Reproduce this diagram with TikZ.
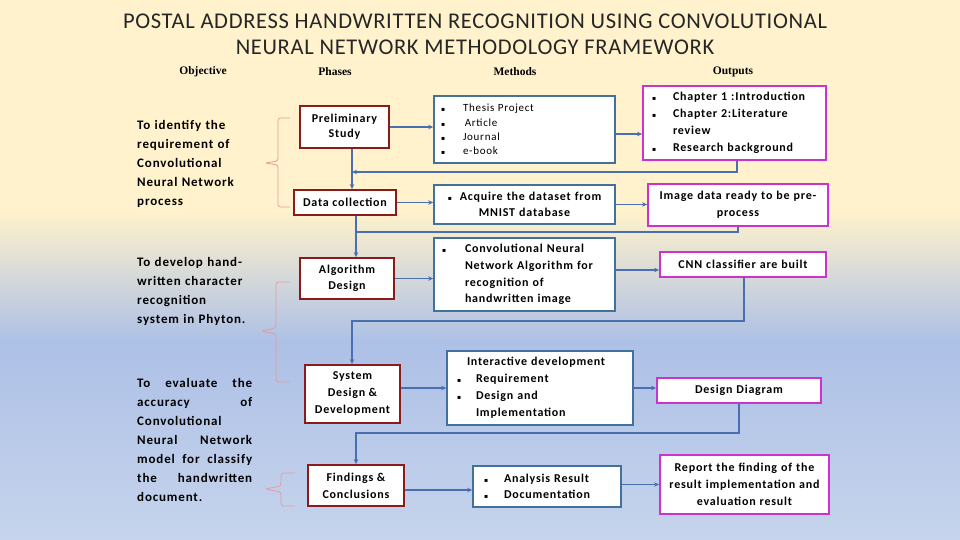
\documentclass[tikz,border=0pt]{standalone}
\usepackage{fontspec}
\setmainfont{Carlito}[LetterSpace=6.5]
\newfontfamily\titlefont{Carlito}[LetterSpace=3]
\newfontfamily\hdrfont{Liberation Serif}
\newfontfamily\dejavu{DejaVu Sans}
\usetikzlibrary{arrows.meta,calc}

\definecolor{cream}{HTML}{FFF2CC}
\definecolor{bgblue}{HTML}{ADC0E6}
\definecolor{bgbluetwo}{HTML}{C6D4EC}
\definecolor{phred}{HTML}{8B1A1A}
\definecolor{mblue}{HTML}{41719C}
\definecolor{omag}{HTML}{CC33CC}
\definecolor{connc}{HTML}{4A6FB0}
\definecolor{bracec}{HTML}{E59C9C}

\newcommand\bl{{\dejavu\fontsize{6}{6}\selectfont ▪}}

\tikzset{
  phasebox/.style={draw=phred, line width=1.8pt, fill=white, align=center, inner sep=0pt,
    font=\bfseries\fontsize{12}{16}\selectfont},
  methbox/.style={draw=mblue, line width=1.6pt, fill=white, inner ysep=0pt,
    font=\bfseries\fontsize{12}{16.7}\selectfont},
  outbox/.style={draw=omag, line width=1.8pt, fill=white, inner ysep=0pt,
    font=\bfseries\fontsize{12}{17}\selectfont},
  objtext/.style={anchor=west, inner sep=0pt, font=\bfseries\fontsize{13}{19}\selectfont},
  hdrst/.style={inner sep=0pt, font=\hdrfont\bfseries\fontsize{11.5}{13}\selectfont},
  connline/.style={draw=connc, line width=1.6pt},
  arr/.style={connline, -{Stealth[length=5pt,width=4.5pt]}},
  bracest/.style={draw=bracec, line width=0.8pt, rounded corners=2.5pt}
}

\begin{document}
\begin{tikzpicture}[x=1pt,y=-1pt]
\useasboundingbox (0,0) rectangle (960,540);
% background
\fill[cream] (0,0) rectangle (960,212);
\shade[top color=cream, bottom color=bgblue] (0,211) rectangle (960,342);
\shade[top color=bgblue, bottom color=bgbluetwo] (0,341) rectangle (960,540);

% title
\node[inner sep=0pt, align=center, font=\titlefont\fontsize{22.5}{26}\selectfont, text=black!85] (title) at (475,34)
  {POSTAL ADDRESS HANDWRITTEN RECOGNITION USING CONVOLUTIONAL\\NEURAL NETWORK METHODOLOGY FRAMEWORK};

% headers
\node[hdrst] (hobj) at (203,72) {Objective};
\node[hdrst] (hpha) at (335,72) {Phases};
\node[hdrst] (hmet) at (515,72) {Methods};
\node[hdrst] (hout) at (733,72) {Outputs};

% objectives
\node[objtext, text width=125pt, align=left] (ob1) at (137,164)
  {To identify the\\requirement of\\Convolutional\\Neural Network\\process};
\node[objtext, text width=130pt, align=left] (ob2) at (137,291)
  {To develop hand-\\written character\\recognition\\system in Phyton.};
\node[objtext, text width=115pt, align=justify] (ob3) at (137,439.5)
  {To evaluate the\linebreak accuracy of\linebreak Convolutional\linebreak Neural Network\linebreak model for classify\linebreak the handwritten\linebreak document.};

% braces
\draw[bracest] (290,118) -- (278,118) -- (278,161) -- (265,163) -- (278,165) -- (278,207) -- (290,207);
\draw[bracest] (290,282) -- (276,282) -- (276,328) -- (261,331) -- (276,334) -- (276,382) -- (290,382);
\draw[bracest] (295,473) -- (281,473) -- (281,486) -- (265,489) -- (281,492) -- (281,506) -- (295,506);

% phases
\node[phasebox, minimum width=89pt, minimum height=42pt, font=\bfseries\fontsize{12}{15}\selectfont] (p1) at (344.5,127) {Preliminary\\Study};
\node[phasebox, minimum width=102pt, minimum height=25pt] (p2) at (345,202.5) {Data collection};
\node[phasebox, minimum width=94pt, minimum height=41pt] (p3) at (347,278.5) {Algorithm\\Design};
\node[phasebox, minimum width=95pt, minimum height=58pt, font=\bfseries\fontsize{12}{17}\selectfont] (p4) at (352.5,394) {System\\Design \&\\Development};
\node[phasebox, minimum width=96pt, minimum height=41pt, font=\bfseries\fontsize{12}{17}\selectfont] (p5) at (356,485.5) {Findings \&\\Conclusions};

% methods
\node[methbox, inner xsep=7pt, text width=167pt, minimum height=67pt, align=left,
  font=\fontsize{11}{14.4}\selectfont] (m1) at (524.5,129.5)
  {\makebox[22pt][l]{\bl}Thesis Project\\\makebox[22pt][l]{\bl}\,Article\\\makebox[22pt][l]{\bl}Journal\\\makebox[22pt][l]{\bl}e-book};
\node[methbox, inner xsep=4pt, text width=173pt, minimum height=39pt, align=center,
  font=\bfseries\fontsize{12}{16}\selectfont] (m2) at (524.5,204.5)
  {\bl\ \ Acquire the dataset from\\MNIST database};
\node[methbox, inner xsep=8pt, text width=165pt, minimum height=73pt, align=left] (m3) at (524.5,274.5)
  {\makebox[23pt][l]{\bl}Convolutional Neural\\\hspace*{23pt}Network Algorithm for\\\hspace*{23pt}recognition of\\\hspace*{23pt}handwritten image};
\node[methbox, inner xsep=10pt, text width=166pt, minimum height=74pt, align=left,
  font=\bfseries\fontsize{12}{17}\selectfont] (m4) at (540,388)
  {\hspace*{10pt}Interactive development\\\makebox[19pt][l]{\bl}Requirement\\\makebox[19pt][l]{\bl}Design and\\\hspace*{19pt}Implementation};
\node[methbox, inner xsep=11pt, text width=126pt, minimum height=41pt, align=left,
  font=\bfseries\fontsize{12}{16}\selectfont] (m5) at (547,486.5)
  {\makebox[20pt][l]{\bl}Analysis Result\\\makebox[20pt][l]{\bl}Documentation};

% outputs
\node[outbox, inner xsep=9pt, text width=165pt, minimum height=74pt, align=left] (o1) at (734.5,123)
  {\makebox[21pt][l]{\bl}Chapter 1 :Introduction\\\makebox[21pt][l]{\bl}Chapter 2:Literature\\\hspace*{21pt}review\\\makebox[21pt][l]{\bl}Research background};
\node[outbox, inner xsep=4pt, text width=172pt, minimum height=42pt, align=center] (o2) at (738,205)
  {Image data ready to be pre-\\process};
\node[outbox, inner xsep=4pt, text width=158pt, minimum height=25pt, align=center] (o3) at (743,264.5)
  {CNN classifier are built};
\node[outbox, inner xsep=4pt, text width=156pt, minimum height=25pt, align=center] (o4) at (739,390.5)
  {Design Diagram};
\node[outbox, inner xsep=4pt, text width=161pt, minimum height=59pt, align=center] (o5) at (744.5,484.5)
  {Report the finding of the\\result implementation and\\evaluation result};

% junction coordinates
\coordinate (j1) at (352,172);
\coordinate (j2) at (356,232);
\coordinate (j3) at (352,321);
\coordinate (j4) at (356,433);

% phase -> method
\draw[arr] (p1.east) -- (p1.east -| m1.west);
\draw[arr] (p2.east) -- (p2.east -| m2.west);
\draw[arr] (p3.east) -- (p3.east -| m3.west);
\draw[arr] ([yshift=6pt]p4.east) -- ([yshift=6pt]p4.east -| m4.west);
\draw[arr] ([yshift=-4.5pt]p5.east) -- ([yshift=-4.5pt]p5.east -| m5.west);

% method -> output
\draw[arr] ([yshift=-4.5pt]m1.east) -- ([yshift=-4.5pt]m1.east -| o1.west);
\draw[arr] (m2.east) -- (m2.east -| o2.west);
\draw[arr] ([yshift=4.5pt]m3.east) -- ([yshift=4.5pt]m3.east -| o3.west);
\draw[arr] (m4.east) -- (m4.east -| o4.west);
\draw[arr] (o5.west -| m5.east) -- (o5.west);

% phase to phase
\draw[arr] (p1.south -| j1) -- (p2.north -| j1);
\draw[connline] (p2.south -| j2) -- (j2);

% feedback loops
\draw[arr] ([xshift=2.5pt]o1.south) |- (j1);
\draw[arr] ([xshift=0pt]o2.south) |- (j2) -- (j2 |- p3.north);
\draw[arr] ([xshift=1pt]o3.south) |- (j3) -- (j3 |- p4.north);
\draw[arr] ([xshift=0pt]o4.south) |- (j4) -- (j4 |- p5.north);
\end{tikzpicture}
\end{document}
